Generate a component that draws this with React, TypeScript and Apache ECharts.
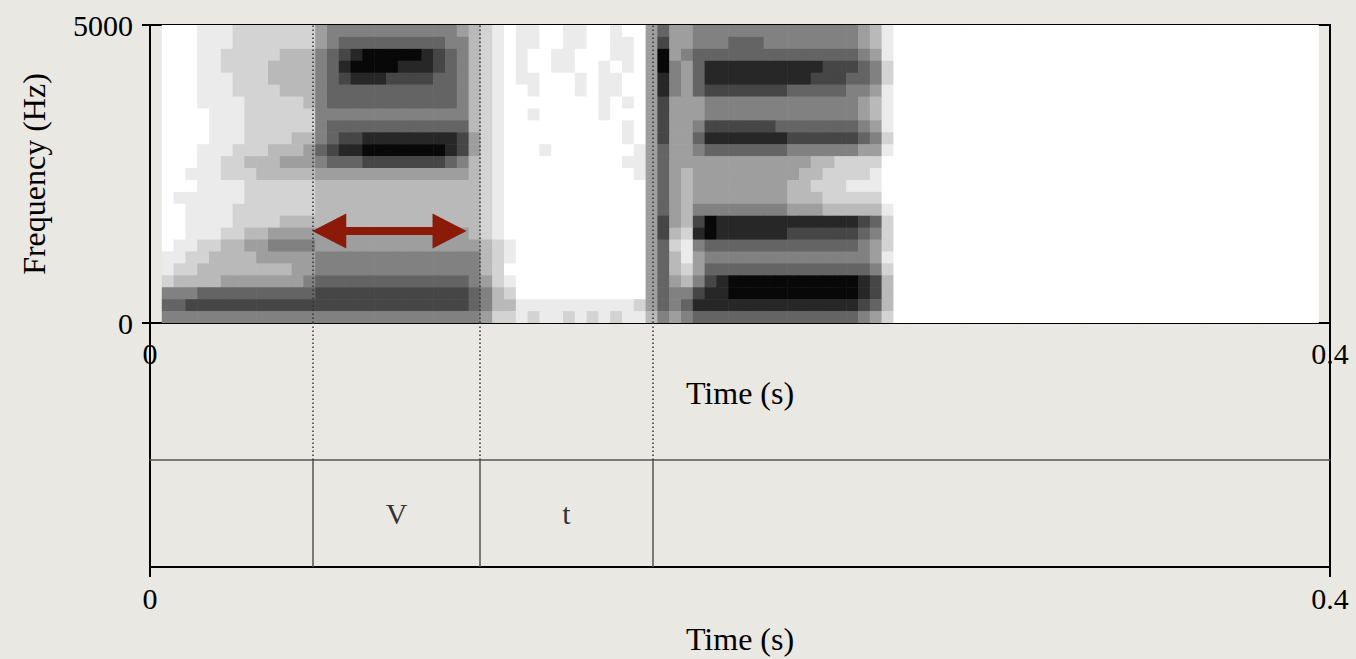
import { useEffect, useRef } from "react";
import * as echarts from "echarts";

// time axis (s) and frequency axis (Hz)
const T_MIN = 0;
const T_MAX = 0.4;
const F_MIN = 0;
const F_MAX = 5000;

// spectrogram cells: 4 ms columns from 0.004 s, 200 Hz bands, darkness 0 (white) .. 9 (black)
const SPEC_T0 = 0.004;
const SPEC_DT = 0.004;
const SPEC_DF = 200;
const SPEC_COLUMNS = 98;
// first string = top band (4800-5000 Hz), last = 0-200 Hz; spaces only group columns
const SPEC_ROWS = [
  "000 1112 222222 45555555555543 21 011001100100 4 6 445 555555555555543 1",
  "000 1112 222222 45666666666553 21 011001100110 4 7 445 556665555555543 1",
  "000 1122 222333 56789999987653 21 010011000110 4 9 456 666666666666654 1",
  "000 1122 223333 56899998887653 21 010011001010 4 9 546 888888888877765 2",
  "000 1112 223333 56788877776653 21 011000101100 4 8 546 888888888777665 2",
  "000 1112 222333 56666666666653 21 001000101100 4 8 546 777777766666554 1",
  "000 1111 222223 56666666666653 21 000000001010 4 7 444 555555555555543 1",
  "000 0111 222222 55555555555553 21 001000001000 4 7 444 555555555555543 1",
  "000 0111 222222 56666666666663 21 000000000010 4 7 445 777777666666654 1",
  "000 0111 222233 56778888888874 21 000000000010 4 7 446 888888877777765 2",
  "000 1112 223334 67889999999874 21 000100000001 4 6 445 666666655555544 1",
  "000 1122 333444 56667777777653 21 000000000011 4 6 444 444444444332222 0",
  "001 1122 233333 44444444444443 21 000000000001 4 6 434 444444443322221 0",
  "000 1111 222222 33333333333333 21 000000000000 4 6 434 444444433222111 0",
  "011 1111 222222 33333333333333 21 000000000000 4 6 434 444444433322222 0",
  "001 1112 222222 33333333333333 21 000000000000 4 6 435 555555544433333 1",
  "001 1112 222333 33333333333333 21 000000000000 4 7 437 988888888888876 2",
  "001 1122 334444 44444444444443 21 000000000000 4 7 328 988888877777765 2",
  "011 2233 445555 44444444444444 32 100000000000 4 6 215 666666666666654 2",
  "112 2333 344444 55555555555555 32 100000000000 4 6 314 555555555555554 1",
  "122 3333 333344 55555555555555 32 000000000000 4 6 324 666666666666665 2",
  "233 3344 444445 66666666666665 42 100000000000 4 6 435 789999999999987 3",
  "555 6666 666666 77777777777776 53 200000000000 4 6 557 889999999999987 3",
  "667 7777 777777 77777777777776 53 311111111112 4 6 568 888888888888876 3",
  "555 5555 555555 55555555555555 42 212112121211 3 5 456 666666666666654 2",
];

// text grid tier
const TIER_BOUNDARIES = [0.0553, 0.1119, 0.1705];
const TIER_LABELS = ["", "V", "t", ""];

// red double arrow over the vowel
const ARROW_FROM = 0.055;
const ARROW_TO = 0.1073;
const ARROW_FREQ = 1545;

const FONT = "Liberation Serif";
const BG = "#e9e8e2";

const App = () => {
  const chartRef = useRef<HTMLDivElement>(null);

  useEffect(() => {
    if (!chartRef.current) return;
    const chart = echarts.init(chartRef.current, null, { renderer: "svg" });

    const cells: number[][] = [];
    SPEC_ROWS.forEach((row, i) => {
      const band = SPEC_ROWS.length - 1 - i;
      const digits = row.replace(/ /g, "");
      for (let c = 0; c < SPEC_COLUMNS; c++) {
        const v = c < digits.length ? Number(digits[c]) : 0;
        cells.push([SPEC_T0 + c * SPEC_DT, band * SPEC_DF, v]);
      }
    });

    const edges = [T_MIN, ...TIER_BOUNDARIES, T_MAX];
    const tierLabels = TIER_LABELS.map((name, i) => [(edges[i] + edges[i + 1]) / 2, 0.5, name]).filter(
      (d) => d[2] !== ""
    );

    const plain = (v: number) => String(v);
    const axisBlack = { show: true, onZero: false, lineStyle: { color: "#000", width: 2 } };
    const hiddenBits = { axisTick: { show: false }, axisLabel: { show: false }, splitLine: { show: false } };
    const labelStyle = { fontFamily: FONT, fontSize: 30, color: "#000" };
    const nameStyle = { fontFamily: FONT, fontSize: 32, color: "#000" };
    const boundaryLines = (style: any) => ({
      silent: true,
      precision: 4,
      symbol: ["none", "none"],
      label: { show: false },
      lineStyle: style,
      data: TIER_BOUNDARIES.map((t) => ({ xAxis: t })),
    });
    const dotted = { type: [1.5, 2.5], color: "#333", width: 1.5 };
    const shade = (v: number) => Math.round(8 + 247 * (1 - Math.pow(v / 9, 1.15)));

    const option = {
      animation: false,
      backgroundColor: BG,
      textStyle: { fontFamily: FONT },
      grid: [
        { left: 150, top: 25, width: 1180, height: 298, show: true, borderColor: "#000", borderWidth: 2, backgroundColor: "transparent" },
        { left: 150, top: 323, width: 1180, height: 137 },
        { left: 150, top: 460, width: 1180, height: 107 },
      ],
      xAxis: [
        {
          gridIndex: 0,
          type: "value",
          min: T_MIN,
          max: T_MAX,
          interval: T_MAX,
          axisLine: axisBlack,
          axisTick: { show: false },
          splitLine: { show: false },
          axisLabel: { ...labelStyle, margin: 15, showMinLabel: true, showMaxLabel: true, formatter: plain },
          name: "Time (s)",
          nameLocation: "middle",
          nameGap: 54,
          nameTextStyle: nameStyle,
        },
        { gridIndex: 1, type: "value", min: T_MIN, max: T_MAX, show: false },
        {
          gridIndex: 2,
          type: "value",
          min: T_MIN,
          max: T_MAX,
          interval: T_MAX,
          axisLine: axisBlack,
          axisTick: { show: true, inside: false, length: 10, lineStyle: { color: "#000", width: 2 } },
          splitLine: { show: false },
          axisLabel: { ...labelStyle, margin: 16, showMinLabel: true, showMaxLabel: true, formatter: plain },
          name: "Time (s)",
          nameLocation: "middle",
          nameGap: 56,
          nameTextStyle: nameStyle,
        },
        {
          gridIndex: 2,
          type: "value",
          position: "top",
          min: T_MIN,
          max: T_MAX,
          axisLine: { show: true, onZero: false, lineStyle: { color: "#555", width: 1.5 } },
          ...hiddenBits,
        },
      ],
      yAxis: [
        {
          gridIndex: 0,
          type: "value",
          min: F_MIN,
          max: F_MAX,
          interval: F_MAX,
          axisLine: axisBlack,
          axisTick: { show: true, inside: false, length: 8, lineStyle: { color: "#000", width: 2 } },
          splitLine: { show: false },
          axisLabel: { ...labelStyle, margin: 17, formatter: plain },
          name: "Frequency (Hz)",
          nameLocation: "middle",
          nameGap: 100,
          nameTextStyle: nameStyle,
        },
        { gridIndex: 1, type: "value", min: 0, max: 1, position: "left", axisLine: axisBlack, ...hiddenBits },
        { gridIndex: 1, type: "value", min: 0, max: 1, position: "right", axisLine: axisBlack, ...hiddenBits },
        { gridIndex: 2, type: "value", min: 0, max: 1, position: "left", axisLine: axisBlack, ...hiddenBits },
        { gridIndex: 2, type: "value", min: 0, max: 1, position: "right", axisLine: axisBlack, ...hiddenBits },
      ],
      series: [
        {
          name: "spectrogram",
          type: "custom",
          xAxisIndex: 0,
          yAxisIndex: 0,
          silent: true,
          clip: true,
          data: cells,
          renderItem: (_params: any, api: any) => {
            const t = api.value(0);
            const f = api.value(1);
            const g = shade(api.value(2));
            const p0 = api.coord([t, f + SPEC_DF]);
            const p1 = api.coord([t + SPEC_DT, f]);
            return {
              type: "rect",
              shape: { x: p0[0], y: p0[1], width: p1[0] - p0[0] + 0.6, height: p1[1] - p0[1] + 0.6 },
              style: { fill: `rgb(${g},${g},${g})` },
            };
          },
        },
        {
          name: "boundaries-spec",
          type: "line",
          xAxisIndex: 0,
          yAxisIndex: 0,
          data: [[T_MIN, F_MIN]],
          showSymbol: false,
          silent: true,
          markLine: boundaryLines(dotted),
        },
        {
          name: "arrow",
          type: "custom",
          xAxisIndex: 0,
          yAxisIndex: 0,
          silent: true,
          data: [[ARROW_FROM, ARROW_TO, ARROW_FREQ]],
          renderItem: (_params: any, api: any) => {
            const a = api.coord([api.value(0), api.value(2)]);
            const b = api.coord([api.value(1), api.value(2)]);
            const L = 34;
            const H = 17.5;
            const S = 4;
            return {
              type: "polygon",
              shape: {
                points: [
                  [a[0], a[1]],
                  [a[0] + L, a[1] - H],
                  [a[0] + L, a[1] - S],
                  [b[0] - L, b[1] - S],
                  [b[0] - L, b[1] - H],
                  [b[0], b[1]],
                  [b[0] - L, b[1] + H],
                  [b[0] - L, b[1] + S],
                  [a[0] + L, a[1] + S],
                  [a[0] + L, a[1] + H],
                ],
              },
              style: { fill: "#8c1a08" },
            };
          },
        },
        {
          name: "boundaries-gap",
          type: "line",
          xAxisIndex: 1,
          yAxisIndex: 1,
          data: [[T_MIN, 0]],
          showSymbol: false,
          silent: true,
          markLine: boundaryLines(dotted),
        },
        {
          name: "boundaries-tier",
          type: "line",
          xAxisIndex: 2,
          yAxisIndex: 3,
          data: [[T_MIN, 0]],
          showSymbol: false,
          silent: true,
          markLine: boundaryLines({ type: "solid", color: "#555", width: 1.5 }),
        },
        {
          name: "tier-labels",
          type: "scatter",
          xAxisIndex: 2,
          yAxisIndex: 3,
          symbolSize: 0,
          silent: true,
          data: tierLabels,
          label: {
            show: true,
            position: "inside",
            formatter: (p: any) => p.data[2],
            ...labelStyle,
          },
        },
      ],
    };

    chart.setOption(option);
    return () => chart.dispose();
  }, []);

  return (
    <div
      ref={chartRef}
      style={{ position: "fixed", left: 0, top: 0, width: "1356px", height: "659px", background: BG }}
    />
  );
};

export default App;
